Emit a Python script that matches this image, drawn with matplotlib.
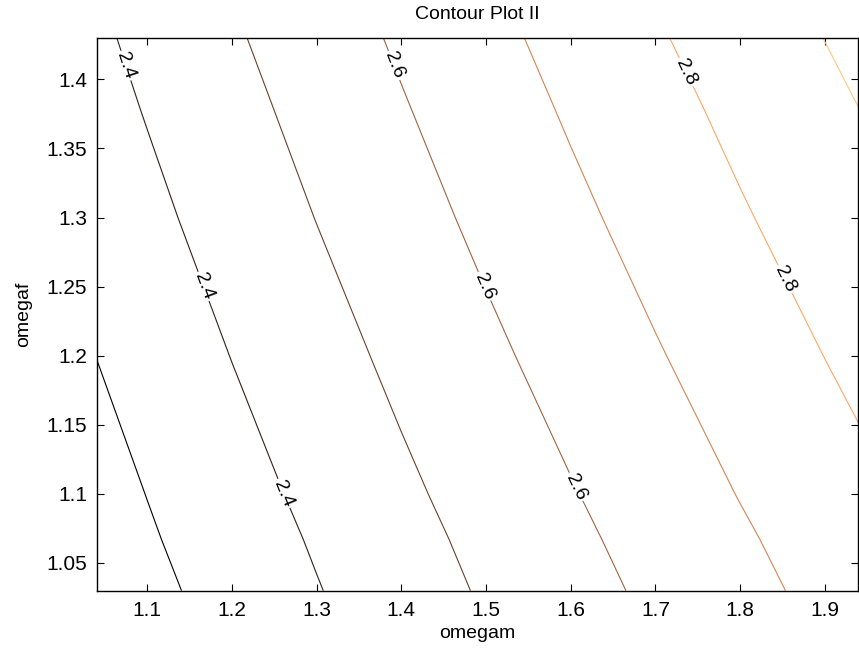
#!/usr/bin/env python
"""
Contour Plot II: contour lines of the response over omegam / omegaf.
"""

import numpy as np
import matplotlib.pyplot as plt
from matplotlib import ticker
from matplotlib.colors import Normalize

plt.rcParams["font.family"] = ["Liberation Sans", "DejaVu Sans"]

omegam = [1.04, 1.1, 1.2, 1.3, 1.4, 1.5, 1.6, 1.7, 1.8, 1.9, 1.94]
omegaf = [1.03, 1.067, 1.1, 1.2, 1.3, 1.381, 1.43]

# one row per omegaf value, one column per omegam value
z_values = [
    [2.2398, 2.2757, 2.3355, 2.3954, 2.4533, 2.5105, 2.5649, 2.6188, 2.6718, 2.7246, 2.7456],
    [2.2539, 2.2898, 2.3497, 2.4093, 2.4678, 2.5248, 2.5801, 2.6342, 2.6877, 2.7405, 2.7616],
    [2.2646, 2.3015, 2.3629, 2.4232, 2.4820, 2.5387, 2.5944, 2.6490, 2.7033, 2.7560, 2.7770],
    [2.3006, 2.3380, 2.4018, 2.4623, 2.5220, 2.5804, 2.6371, 2.6929, 2.7471, 2.8011, 2.8222],
    [2.3399, 2.3773, 2.4396, 2.5018, 2.5622, 2.6215, 2.6791, 2.7354, 2.7911, 2.8442, 2.8653],
    [2.3676, 2.4060, 2.4700, 2.5326, 2.5939, 2.6533, 2.7120, 2.7691, 2.8249, 2.8791, 2.9008],
    [2.3840, 2.4235, 2.4887, 2.5513, 2.6130, 2.6732, 2.7324, 2.7907, 2.8462, 2.9013, 2.9233],
]

plain_levels = [2.3, 2.5, 2.7, 2.9]
labeled_levels = [2.4, 2.6, 2.8]

# rough spots where the inline labels sit
label_spots = [
    (1.075, 1.41), (1.166, 1.25), (1.26, 1.10),
    (1.391, 1.41), (1.497, 1.25), (1.606, 1.105),
    (1.735, 1.405), (1.852, 1.255),
]


def main():
    fig = plt.figure(figsize=(8.59, 6.54), dpi=100)
    ax = fig.add_axes([0.1126, 0.0963, 0.8862, 0.8451])

    X, Y = np.meshgrid(omegam, omegaf)
    Z = np.array(z_values)

    # same copper scale for both sets of lines
    norm = Normalize(vmin=min(plain_levels), vmax=max(plain_levels))
    ax.contour(X, Y, Z, levels=plain_levels, cmap="copper", norm=norm,
               linewidths=0.8)
    cs = ax.contour(X, Y, Z, levels=labeled_levels, cmap="copper", norm=norm,
                    linewidths=0.8)
    ax.clabel(cs, manual=label_spots, inline=True, inline_spacing=2,
              fmt="%.1f", fontsize=14, colors="black")

    ax.set_xlim(1.0406, 1.939)
    ax.set_ylim(1.0297, 1.4297)
    ax.set_xticks(np.arange(1.1, 1.95, 0.1))
    ax.set_yticks(np.arange(1.05, 1.42, 0.05))
    ax.xaxis.set_major_formatter(ticker.FormatStrFormatter("%g"))
    ax.yaxis.set_major_formatter(ticker.FormatStrFormatter("%g"))
    ax.tick_params(direction="in", top=True, right=True, length=5,
                   labelsize=15, pad=7)
    for spine in ax.spines.values():
        spine.set_linewidth(1.0)

    ax.set_xlabel("omegam", fontsize=14, labelpad=4)
    ax.set_ylabel("omegaf", fontsize=14, labelpad=10)
    ax.set_title("Contour Plot II", fontsize=14, pad=14)

    plt.savefig("out.png", dpi=100)
    plt.close()


if __name__ == "__main__":
    main()
